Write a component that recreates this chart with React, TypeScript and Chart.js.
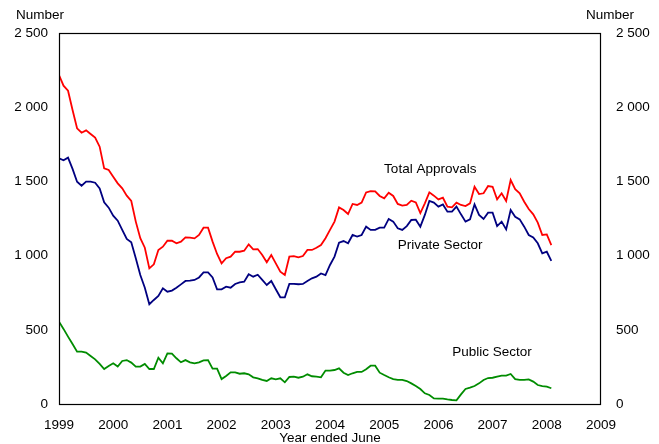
import { useEffect, useRef } from "react";
import { Chart, registerables } from "chart.js";

Chart.register(...registerables);

// Monthly series, starting January 1999 (year ended June)
const startYear = 1999;

const totalApprovals = [
  2217, 2145, 2111, 1981, 1858, 1828, 1844, 1819, 1795, 1734, 1588, 1577,
  1532, 1487, 1453, 1404, 1368, 1229, 1117, 1053, 914, 941, 1038, 1060,
  1100, 1100, 1083, 1094, 1123, 1121, 1116, 1139, 1188, 1188, 1094, 1011,
  948, 982, 993, 1026, 1026, 1033, 1076, 1042, 1044, 1004, 955, 1004,
  948, 892, 869, 993, 997, 988, 997, 1038, 1038, 1053, 1071, 1117,
  1173, 1229, 1325, 1307, 1280, 1348, 1341, 1357, 1426, 1435, 1433, 1402,
  1386, 1424, 1402, 1348, 1337, 1341, 1370, 1358, 1287, 1352, 1426, 1404,
  1379, 1390, 1330, 1325, 1357, 1341, 1334, 1352, 1464, 1415, 1420, 1469,
  1464, 1379, 1420, 1368, 1509, 1447, 1420, 1363, 1314, 1278, 1222, 1139,
  1143, 1071,
];

const privateSector = [
  1656, 1642, 1660, 1584, 1498, 1471, 1498, 1498, 1491, 1453, 1359, 1323,
  1269, 1235, 1173, 1112, 1090, 982, 869, 784, 672, 701, 728, 780,
  757, 764, 784, 806, 829, 831, 836, 853, 887, 887, 853, 773,
  773, 791, 784, 809, 820, 824, 874, 858, 871, 836, 802, 829,
  773, 719, 719, 809, 809, 807, 809, 829, 847, 858, 880, 869,
  937, 993, 1087, 1098, 1083, 1139, 1128, 1139, 1195, 1173, 1173, 1188,
  1188, 1247, 1229, 1184, 1173, 1199, 1240, 1242, 1195, 1274, 1368, 1357,
  1330, 1345, 1296, 1296, 1330, 1278, 1229, 1244, 1345, 1274, 1247, 1289,
  1289, 1199, 1229, 1177, 1307, 1262, 1244, 1195, 1139, 1123, 1083, 1015,
  1026, 964,
];

const publicSector = [
  555, 506, 454, 404, 353, 353, 346, 323, 301, 270, 236, 256,
  274, 252, 290, 296, 279, 252, 252, 270, 236, 236, 312, 274,
  341, 339, 308, 281, 296, 281, 274, 281, 294, 296, 238, 238,
  168, 189, 213, 213, 204, 207, 200, 180, 173, 162, 155, 173,
  166, 173, 146, 182, 184, 177, 184, 200, 187, 184, 180, 225,
  225, 229, 240, 211, 195, 207, 216, 216, 234, 258, 258, 211,
  195, 180, 168, 162, 162, 155, 139, 121, 101, 72, 61, 38,
  36, 36, 31, 27, 25, 65, 101, 110, 121, 139, 162, 175,
  177, 184, 191, 191, 202, 168, 162, 162, 166, 151, 128, 121,
  117, 106,
];

const xRange = [1999, 2009];
const yRange = [0, 2500];
const yStep = 500;

const seriesLabels = [
  { text: "Total Approvals", x: 2005.85, y: 1584 },
  { text: "Private Sector", x: 2006.03, y: 1071 },
  { text: "Public Sector", x: 2006.99, y: 350 },
];

const FONT = '"Liberation Sans", Arial, Helvetica, sans-serif';
const FS = 13.5;

const fmtNumber = (v: number) => {
  if (v >= 1000) {
    const th = Math.floor(v / 1000);
    const rest = String(v % 1000).padStart(3, "0");
    return `${th} ${rest}`;
  }
  return String(v);
};

export default function App() {
  const ref = useRef<HTMLCanvasElement>(null);

  useEffect(() => {
    document.body.style.margin = "0";
    const canvas = ref.current;
    if (!canvas) return;

    const toXY = (arr: number[]) =>
      arr.map((v, i) => ({ x: startYear + i / 12, y: v }));

    const annot = {
      id: "annot",
      afterDraw(chart: any) {
        const { ctx, chartArea: a, scales } = chart;
        ctx.save();
        ctx.strokeStyle = "#000";
        ctx.lineWidth = 1.2;
        ctx.strokeRect(a.left + 0.5, a.top + 0.5, a.right - a.left - 1, a.bottom - a.top);
        ctx.fillStyle = "#000";
        ctx.font = `${FS}px ${FONT}`;
        ctx.textAlign = "center";
        ctx.textBaseline = "middle";
        ctx.fillText("Number", 40, 15);
        ctx.fillText("Number", 610, 15);
        ctx.fillText("Year ended June", (a.left + a.right) / 2, 438);
        for (const l of seriesLabels) {
          ctx.fillText(l.text, scales.x.getPixelForValue(l.x), scales.y.getPixelForValue(l.y));
        }
        ctx.restore();
      },
    };

    const tickFont = { family: FONT, size: FS };

    const chart = new Chart(canvas, {
      type: "line",
      data: {
        datasets: [
          { label: "Total Approvals", data: toXY(totalApprovals), borderColor: "#ff0000" },
          { label: "Private Sector", data: toXY(privateSector), borderColor: "#000080" },
          { label: "Public Sector", data: toXY(publicSector), borderColor: "#008c00" },
        ].map((d) => ({
          ...d,
          borderWidth: 1.8,
          pointRadius: 0,
          tension: 0,
          fill: false,
        })),
      },
      options: {
        responsive: false,
        animation: false,
        layout: { padding: { top: 33, left: 0, right: 0, bottom: 0 } },
        plugins: {
          legend: { display: false },
          tooltip: { enabled: false },
        },
        scales: {
          x: {
            type: "linear",
            min: xRange[0],
            max: xRange[1],
            grid: { display: false, drawTicks: false },
            border: { display: false },
            ticks: {
              stepSize: 1,
              autoSkip: false,
              maxRotation: 0,
              padding: 13,
              color: "#000",
              font: tickFont,
              callback: (v: any) => String(v),
            },
            afterFit: (s: any) => {
              s.height = 40;
            },
          },
          y: {
            position: "left",
            min: yRange[0],
            max: yRange[1],
            grid: { display: false, drawTicks: false },
            border: { display: false },
            ticks: {
              stepSize: yStep,
              padding: 11,
              color: "#000",
              font: tickFont,
              callback: (v: any) => fmtNumber(Number(v)),
            },
            afterFit: (s: any) => {
              s.width = 59;
            },
          },
          y2: {
            position: "right",
            min: yRange[0],
            max: yRange[1],
            grid: { display: false, drawTicks: false },
            border: { display: false },
            ticks: {
              stepSize: yStep,
              padding: 15,
              color: "#000",
              font: tickFont,
              callback: (v: any) => fmtNumber(Number(v)),
            },
            afterFit: (s: any) => {
              s.width = 58;
            },
          },
        },
      },
      plugins: [annot],
    });

    return () => chart.destroy();
  }, []);

  return (
    <canvas
      ref={ref}
      width={659}
      height={444}
      style={{ display: "block", width: 659, height: 444 }}
    />
  );
}
